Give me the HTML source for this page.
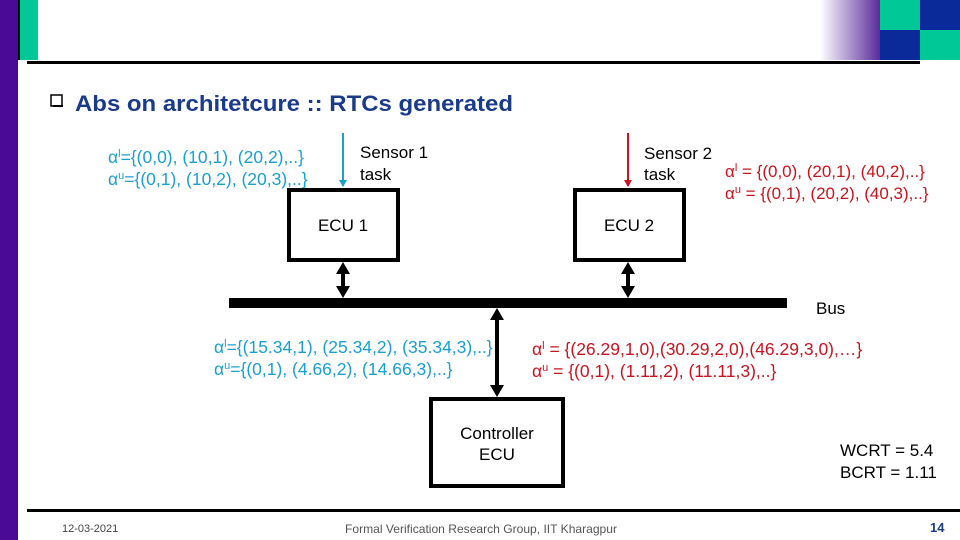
<!DOCTYPE html>
<html><head><meta charset="utf-8"><style>
body{margin:0;width:960px;height:540px;overflow:hidden;background:#fff}
svg{display:block}
text{font-family:"Liberation Sans",sans-serif}
</style></head><body>
<svg width="960" height="540" viewBox="0 0 960 540">
<defs>
<linearGradient id="g" x1="0" x2="1"><stop offset="0" stop-color="#fff"/><stop offset="1" stop-color="#5a2a9a"/></linearGradient>
<marker id="ab" markerWidth="8" markerHeight="8" refX="6" refY="4" orient="auto" markerUnits="userSpaceOnUse"><path d="M0,0 L7,4 L0,8z" fill="#1a9fd0"/></marker>
<marker id="ar" markerWidth="8" markerHeight="8" refX="6" refY="4" orient="auto" markerUnits="userSpaceOnUse"><path d="M0,0 L7,4 L0,8z" fill="#c8141e"/></marker>
</defs>
<rect x="0" y="0" width="18" height="540" fill="#4b0a96"/>
<rect x="19" y="0" width="19" height="60" fill="#00c896"/>
<rect x="18" y="0" width="2" height="60" fill="#000"/>
<rect x="820" y="0" width="60" height="60" fill="url(#g)"/>
<rect x="880" y="0" width="40" height="30" fill="#00c896"/>
<rect x="920" y="0" width="40" height="30" fill="#0a2a9a"/>
<rect x="880" y="30" width="40" height="30" fill="#0a2a9a"/>
<rect x="920" y="30" width="40" height="30" fill="#00c896"/>
<rect x="27" y="61" width="893" height="3" fill="#000"/>
<rect x="51" y="95" width="11" height="11" fill="#fff" stroke="#000" stroke-width="1.5"/>
<rect x="53" y="105" width="10" height="2" fill="#000"/>
<text x="75" y="111" font-size="22" font-weight="bold" fill="#1a3a8a" textLength="438" lengthAdjust="spacingAndGlyphs">Abs on architetcure :: RTCs generated</text>

<g font-size="17.5" fill="#1a9fd0">
<text x="108" y="163">α<tspan font-size="11" dy="-6">l</tspan><tspan dy="6">={(0,0), (10,1), (20,2),..}</tspan></text>
<text x="108" y="185">α<tspan font-size="11" dy="-6">u</tspan><tspan dy="6">={(0,1), (10,2), (20,3),..}</tspan></text>
</g>
<line x1="343" y1="133" x2="343" y2="186" stroke="#1a9fd0" stroke-width="2" marker-end="url(#ab)"/>
<text x="360" y="158" font-size="17">Sensor 1</text>
<text x="360" y="180" font-size="17">task</text>
<rect x="289" y="190" width="109" height="70" fill="#fff" stroke="#000" stroke-width="4"/>
<text x="343" y="231" font-size="17" text-anchor="middle">ECU 1</text>

<line x1="628" y1="133" x2="628" y2="186" stroke="#c8141e" stroke-width="2" marker-end="url(#ar)"/>
<text x="644" y="159" font-size="17">Sensor 2</text>
<text x="644" y="180" font-size="17">task</text>
<g font-size="17" fill="#c8141e">
<text x="725" y="177">α<tspan font-size="11" dy="-6">l</tspan><tspan dy="6"> = {(0,0), (20,1), (40,2),..}</tspan></text>
<text x="725" y="199">α<tspan font-size="11" dy="-6">u</tspan><tspan dy="6"> = {(0,1), (20,2), (40,3),..}</tspan></text>
</g>
<rect x="575" y="190" width="109" height="70" fill="#fff" stroke="#000" stroke-width="4"/>
<text x="629" y="231" font-size="17" text-anchor="middle">ECU 2</text>

<rect x="229" y="298" width="558" height="10" fill="#000"/>
<text x="816" y="314" font-size="17">Bus</text>
<line x1="343" y1="274" x2="343" y2="286" stroke="#000" stroke-width="4"/>
<path d="M336,274 L343,262 L350,274z M336,286 L343,298 L350,286z" fill="#000"/>
<line x1="628" y1="274" x2="628" y2="286" stroke="#000" stroke-width="4"/>
<path d="M621,274 L628,262 L635,274z M621,286 L628,298 L635,286z" fill="#000"/>
<line x1="497" y1="320" x2="497" y2="385" stroke="#000" stroke-width="4"/>
<path d="M490,320 L497,308 L504,320z M490,385 L497,397 L504,385z" fill="#000"/>

<g font-size="17.5" fill="#1a9fd0">
<text x="214" y="353">α<tspan font-size="11" dy="-6">l</tspan><tspan dy="6">={(15.34,1), (25.34,2), (35.34,3),..}</tspan></text>
<text x="214" y="375">α<tspan font-size="11" dy="-6">u</tspan><tspan dy="6">={(0,1), (4.66,2), (14.66,3),..}</tspan></text>
</g>
<g font-size="17.5" fill="#c8141e">
<text x="532" y="355">α<tspan font-size="11" dy="-6">l</tspan><tspan dy="6"> = {(26.29,1,0),(30.29,2,0),(46.29,3,0),…}</tspan></text>
<text x="532" y="377">α<tspan font-size="11" dy="-6">u</tspan><tspan dy="6"> = {(0,1), (1.11,2), (11.11,3),..}</tspan></text>
</g>
<rect x="431" y="399" width="132" height="87" fill="#fff" stroke="#000" stroke-width="4"/>
<text x="497" y="439" font-size="17" text-anchor="middle">Controller</text>
<text x="497" y="460" font-size="17" text-anchor="middle">ECU</text>
<text x="840" y="456" font-size="17">WCRT = 5.4</text>
<text x="840" y="478" font-size="17">BCRT  = 1.11</text>

<rect x="27" y="509" width="933" height="3" fill="#000"/>
<text x="62" y="532" font-size="11" fill="#444">12-03-2021</text>
<text x="345" y="533" font-size="12" fill="#555" textLength="272" lengthAdjust="spacingAndGlyphs">Formal Verification Research Group, IIT Kharagpur</text>
<text x="930" y="532" font-size="13" font-weight="bold" fill="#1a3a8a">14</text>
</svg>
</body></html>
